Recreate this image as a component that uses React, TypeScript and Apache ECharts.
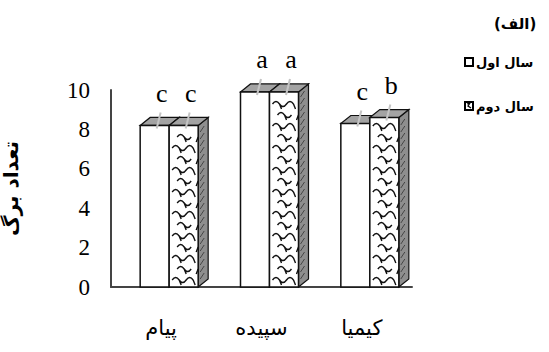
import React, { useEffect, useRef } from "react";
import * as echarts from "echarts";

const categories = ["پیام", "سپیده", "کیمیا"];
const seriesNames = ["سال اول", "سال دوم"];
const year1 = [8.2, 9.9, 8.3];
const year2 = [8.2, 9.9, 8.6];
const letters1 = ["c", "a", "c"];
const letters2 = ["c", "a", "b"];
const yTicks = { min: 0, max: 10, interval: 2 };
const yName = "تعداد برگ";
const panelTitle = "(الف)";

const DX = 10;
const DY = -8;
const BW = 29;
const PERSIAN = "'DejaVu Sans', sans-serif";
const SERIF = "'Liberation Serif', 'Times New Roman', serif";

function makeRender(sIdx: number, letters: string[]) {
  return (params: any, api: any) => {
    const i = api.value(0);
    const v = api.value(1);
    const top = api.coord([i, v]);
    const base = api.coord([i, 0]);
    const cx = top[0];
    const yTop = top[1];
    const yBase = base[1];
    const x0 = sIdx === 0 ? cx - 21 : cx + 8;
    const w = BW;
    const children: any[] = [];
    // side face
    children.push({
      type: "polygon",
      shape: { points: [[x0 + w, yTop], [x0 + w + DX, yTop + DY], [x0 + w + DX, yBase + DY], [x0 + w, yBase]] },
      style: { fill: sIdx === 1 ? "#8e8e8e" : "#ffffff", stroke: "#111", lineWidth: 1.2 },
    });
    if (sIdx === 1) {
      let d = "";
      for (let y = yBase - 6; y > yTop + 4; y -= 7) {
        d += `M${x0 + w + 2} ${y + DY / 2 + 2} L${x0 + w + 6} ${y + DY / 2 - 4} `;
      }
      children.push({ type: "path", shape: { pathData: d }, style: { fill: "none", stroke: "#333", lineWidth: 0.8 } });
    }
    // top face
    children.push({
      type: "polygon",
      shape: { points: [[x0, yTop], [x0 + DX, yTop + DY], [x0 + w + DX, yTop + DY], [x0 + w, yTop]] },
      style: { fill: "#a3a3a3", stroke: "#111", lineWidth: 1.2 },
    });
    // front face
    children.push({
      type: "rect",
      shape: { x: x0, y: yTop, width: w, height: yBase - yTop },
      style: { fill: "#ffffff", stroke: "#111", lineWidth: 1.5 },
    });
    if (sIdx === 1) {
      let d = "";
      let k = 0;
      for (let y = yBase - 7; y > yTop + 6; y -= 11, k++) {
        const xs = x0 + 3 + (k % 2 ? 5 : 0);
        d += `M${xs} ${y} `;
        let s = 0;
        while (xs + 7 * (s + 1) <= x0 + w - 2) {
          const up = s % 2 === 0 ? -5 : 5;
          d += `Q${xs + 7 * s + 3.5} ${y + up} ${xs + 7 * (s + 1)} ${y} `;
          s++;
        }
        d += `M${xs + 7} ${y} L${xs + 9} ${y + 5} M${xs + 21} ${y} L${Math.min(xs + 23, x0 + w - 2)} ${y + 5} `;
      }
      children.push({ type: "path", shape: { pathData: d }, style: { fill: "none", stroke: "#111", lineWidth: 1.4 } });
    }
    // error-bar mark
    const ex = x0 + w / 2 + 4;
    children.push({
      type: "line",
      shape: { x1: ex - 2, y1: yTop + 3, x2: ex + 2, y2: yTop - 13 },
      style: { stroke: "#c4c4c4", lineWidth: 2 },
    });
    // letter
    children.push({
      type: "text",
      style: {
        text: letters[i],
        x: x0 + w / 2 + 7,
        y: yTop - 19,
        align: "center",
        verticalAlign: "bottom",
        font: `26px ${SERIF}`,
        fill: "#000",
      },
    });
    return { type: "group", children };
  };
}

export default function App() {
  const ref = useRef<HTMLDivElement>(null);
  useEffect(() => {
    if (!ref.current) return;
    const chart = echarts.init(ref.current, undefined, { renderer: "svg" });
    chart.setOption({
      animation: false,
      backgroundColor: "#ffffff",
      grid: { left: 111, right: 137, top: 90, bottom: 65, containLabel: false, outerBoundsMode: "none" },
      xAxis: {
        type: "category",
        data: categories,
        axisLine: { lineStyle: { color: "#444", width: 2 } },
        axisTick: { show: false },
        axisLabel: { color: "#000", fontSize: 21, fontFamily: PERSIAN, margin: 30 },
        splitLine: { show: false },
      },
      yAxis: {
        type: "value",
        min: yTicks.min,
        max: yTicks.max,
        interval: yTicks.interval,
        name: yName,
        nameLocation: "middle",
        nameGap: 90,
        nameRotate: 90,
        nameTextStyle: { color: "#000", fontSize: 20, fontWeight: "bold", fontFamily: PERSIAN },
        axisLine: { show: true, lineStyle: { color: "#444", width: 2 } },
        axisTick: { show: false },
        axisLabel: { color: "#000", fontSize: 23, fontFamily: SERIF, margin: 21 },
        splitLine: { show: false },
      },
      series: [
        {
          type: "custom",
          name: seriesNames[0],
          coordinateSystem: "cartesian2d",
          encode: { x: 0, y: 1 },
          data: year1.map((v, i) => [i, v]),
          renderItem: makeRender(0, letters1),
          clip: false,
        },
        {
          type: "custom",
          name: seriesNames[1],
          coordinateSystem: "cartesian2d",
          encode: { x: 0, y: 1 },
          data: year2.map((v, i) => [i, v]),
          renderItem: makeRender(1, letters2),
          clip: false,
        },
      ],
      graphic: [
        {
          type: "text",
          left: 494,
          top: 16,
          style: { text: panelTitle, font: `bold 15px ${PERSIAN}`, fill: "#000" },
        },
        {
          type: "rect",
          shape: { x: 465, y: 58, width: 8, height: 8 },
          style: { fill: "#fff", stroke: "#000", lineWidth: 2 },
        },
        {
          type: "text",
          x: 476,
          y: 62,
          style: { text: seriesNames[0], font: `bold 13px ${PERSIAN}`, fill: "#000", align: "left", verticalAlign: "middle" },
        },
        {
          type: "rect",
          shape: { x: 465, y: 102, width: 8, height: 8 },
          style: { fill: "#fff", stroke: "#000", lineWidth: 2 },
        },
        {
          type: "polyline",
          shape: { points: [[467, 104], [470, 103], [468, 106], [471, 108]] },
          style: { fill: "none", stroke: "#000", lineWidth: 1.3 },
        },
        {
          type: "text",
          x: 476,
          y: 106,
          style: { text: seriesNames[1], font: `bold 13px ${PERSIAN}`, fill: "#000", align: "left", verticalAlign: "middle" },
        },
      ],
    });
    return () => chart.dispose();
  }, []);
  return (
    <div
      ref={ref}
      style={{ position: "fixed", left: 0, top: 0, width: 549, height: 352, background: "#fff" }}
    />
  );
}
